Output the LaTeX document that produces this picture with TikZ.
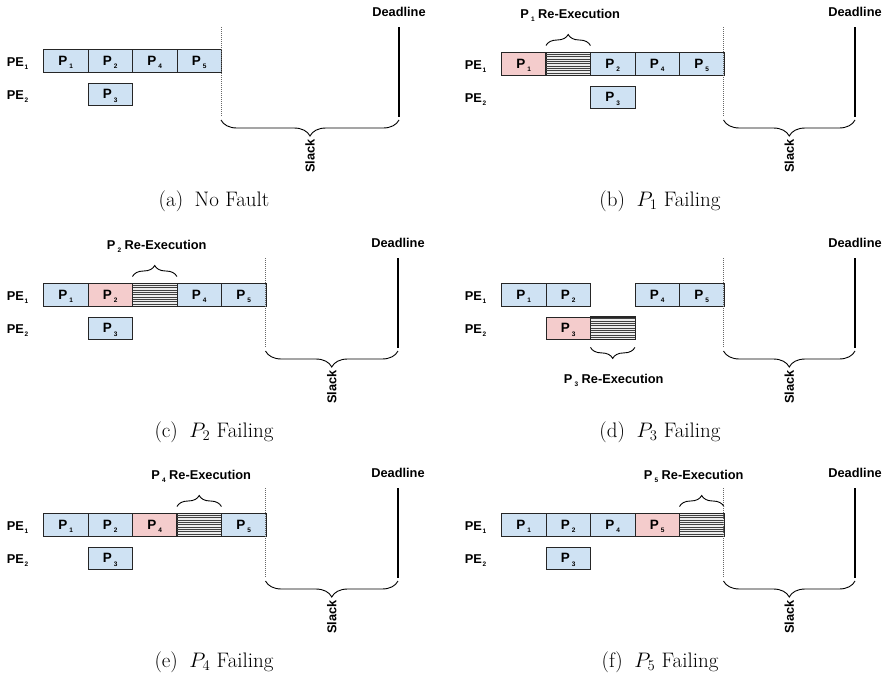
\documentclass[tikz,border=0pt]{standalone}
\usepackage{fix-cm}
\usepackage{fontspec}
\newfontfamily\arialfont{Liberation Sans}
\usetikzlibrary{calc,decorations.pathreplacing}

\definecolor{taskblue}{HTML}{CFE2F3}
\definecolor{taskred}{HTML}{F4CCCC}

% lowered small index, as in PE1 or P3
\newcommand\subl[1]{\hspace{0.16em}\smash{\raisebox{-3.2pt}{\fontsize{6.5}{7}\selectfont #1}}}
\newcommand\subpe[1]{\hspace{0.06em}\smash{\raisebox{-3.2pt}{\fontsize{6.5}{7}\selectfont #1}}}

\tikzset{
  lab/.style={font=\arialfont\bfseries\fontsize{12.8}{14}\selectfont, inner sep=0pt},
  task/.style={draw=black!85, line width=0.9pt, minimum width=44.5pt, minimum height=22.5pt,
    inner sep=0pt, anchor=north west, font=\arialfont\bfseries\fontsize{13.5}{15}\selectfont},
  okbox/.style={task, fill=taskblue},
  failbox/.style={task, fill=taskred},
  redobox/.style={task, fill=gray!15},
  hatchline/.style={line width=0.9pt, black!75},
  finishline/.style={gray!80!black, line width=0.8pt, dash pattern=on 1pt off 1pt},
  deadline/.style={black, line width=2.2pt},
  slackbrace/.style={decorate, decoration={brace, amplitude=16pt}, line width=0.9pt},
  redobrace/.style={decorate, decoration={brace, amplitude=11pt}, line width=0.9pt},
  captext/.style={font=\fontsize{21}{24}\selectfont, inner sep=0pt},
}

% horizontal hatching of a re-execution slot
\newcommand\hatchbox[1]{%
  \foreach \k in {1,...,9}{%
    \draw[hatchline] ($(#1.north west)!\k/10!(#1.south west)$) -- ($(#1.north east)!\k/10!(#1.south east)$);}%
  \draw[draw=black!85, line width=0.9pt] (#1.north west) rectangle (#1.south east);}

% processor labels, finish line, deadline, slack brace and caption
% #1 box top, #2 finish x, #3 deadline x, #4 caption x, #5 caption
\newcommand\panelframe[5]{%
  \node[lab] (pe1) at (17.5,#1+13) {PE\subpe{1}};
  \node[lab] (pe2) at (17.5,#1+46) {PE\subpe{2}};
  \coordinate (fTop) at (#2,27);
  \coordinate (fBot) at (#2,117);
  \draw[finishline] (fTop) -- (fBot);
  \coordinate (dTop) at (#3,27);
  \coordinate (dBot) at (#3,117);
  \draw[deadline] (dTop) -- (dBot);
  \node[lab] (dl) at (#3,12) {Deadline};
  \coordinate (sR) at (#3,120);
  \coordinate (sL) at (#2,120);
  \draw[slackbrace] (sR) -- (sL);
  \node[lab, rotate=90, anchor=east] (slack) at ($(sL)!0.5!(sR)+(0,19)$) {Slack};
  \node[captext] (cap) at (#4,201) {#5};
}

\begin{document}
\begin{tikzpicture}[x=1pt,y=-1pt]
\useasboundingbox (0,0) rectangle (885,680);

% (a) no fault
\begin{scope}[name prefix=a-]
  \node[okbox] (p1) at (43,49) {P\subl{1}};
  \node[okbox] (p2) at (87.5,49) {P\subl{2}};
  \node[okbox] (p4) at (132,49) {P\subl{4}};
  \node[okbox] (p5) at (176.5,49) {P\subl{5}};
  \node[okbox] (p3) at (87.5,82.5) {P\subl{3}};
  \panelframe{49}{221}{399}{214}{(a)\hspace{0.55em}No Fault}
\end{scope}

% (b) P1 fails
\begin{scope}[shift={(458,0)}, name prefix=b-]
  \node[failbox] (p1) at (43,52) {P\subl{1}};
  \node[redobox] (redo) at (87.5,52) {};
  \node[okbox] (p2) at (132,52) {P\subl{2}};
  \node[okbox] (p4) at (176.5,52) {P\subl{4}};
  \node[okbox] (p5) at (221,52) {P\subl{5}};
  \node[okbox] (p3) at (132,85.5) {P\subl{3}};
  \hatchbox{redo}
  \coordinate (rL) at ($(redo.north west)+(0.5,-6.5)$);
  \coordinate (rR) at ($(redo.north east)+(-0.5,-6.5)$);
  \draw[redobrace] (rL) -- (rR);
  \node[lab] (rx) at ($(redo.north)+(2,-38)$) {P\subl{1} Re-Execution};
  \panelframe{52}{265.5}{397}{202}{(b)\hspace{0.55em}$P_1$ Failing}
\end{scope}

% (c) P2 fails
\begin{scope}[shift={(0,231)}, name prefix=c-]
  \node[okbox] (p1) at (43,52) {P\subl{1}};
  \node[failbox] (p2) at (87.5,52) {P\subl{2}};
  \node[redobox] (redo) at (132,52) {};
  \node[okbox] (p4) at (176.5,52) {P\subl{4}};
  \node[okbox] (p5) at (221,52) {P\subl{5}};
  \node[okbox] (p3) at (87.5,85.5) {P\subl{3}};
  \hatchbox{redo}
  \coordinate (rL) at ($(redo.north west)+(0.5,-6.5)$);
  \coordinate (rR) at ($(redo.north east)+(-0.5,-6.5)$);
  \draw[redobrace] (rL) -- (rR);
  \node[lab] (rx) at ($(redo.north)+(2,-38)$) {P\subl{2} Re-Execution};
  \panelframe{52}{265.5}{398}{214}{(c)\hspace{0.55em}$P_2$ Failing}
\end{scope}

% (d) P3 fails
\begin{scope}[shift={(458,231)}, name prefix=d-]
  \node[okbox] (p1) at (43,52) {P\subl{1}};
  \node[okbox] (p2) at (87.5,52) {P\subl{2}};
  \node[okbox] (p4) at (176.5,52) {P\subl{4}};
  \node[okbox] (p5) at (221,52) {P\subl{5}};
  \node[failbox] (p3) at (87.5,85.5) {P\subl{3}};
  \node[redobox] (redo) at (132,85.5) {};
  \hatchbox{redo}
  \coordinate (rL) at ($(redo.south west)+(0.5,7.5)$);
  \coordinate (rR) at ($(redo.south east)+(-0.5,7.5)$);
  \draw[redobrace] (rR) -- (rL);
  \node[lab] (rx) at ($(redo.south)+(1,39)$) {P\subl{3} Re-Execution};
  \panelframe{52}{265.5}{397}{202}{(d)\hspace{0.55em}$P_3$ Failing}
\end{scope}

% (e) P4 fails
\begin{scope}[shift={(0,461)}, name prefix=e-]
  \node[okbox] (p1) at (43,52) {P\subl{1}};
  \node[okbox] (p2) at (87.5,52) {P\subl{2}};
  \node[failbox] (p4) at (132,52) {P\subl{4}};
  \node[redobox] (redo) at (176.5,52) {};
  \node[okbox] (p5) at (221,52) {P\subl{5}};
  \node[okbox] (p3) at (87.5,85.5) {P\subl{3}};
  \hatchbox{redo}
  \coordinate (rL) at ($(redo.north west)+(0.5,-6.5)$);
  \coordinate (rR) at ($(redo.north east)+(-0.5,-6.5)$);
  \draw[redobrace] (rL) -- (rR);
  \node[lab] (rx) at ($(redo.north)+(2,-38)$) {P\subl{4} Re-Execution};
  \panelframe{52}{265.5}{398}{214}{(e)\hspace{0.55em}$P_4$ Failing}
\end{scope}

% (f) P5 fails
\begin{scope}[shift={(458,461)}, name prefix=f-]
  \node[okbox] (p1) at (43,52) {P\subl{1}};
  \node[okbox] (p2) at (87.5,52) {P\subl{2}};
  \node[okbox] (p4) at (132,52) {P\subl{4}};
  \node[failbox] (p5) at (176.5,52) {P\subl{5}};
  \node[redobox] (redo) at (221,52) {};
  \node[okbox] (p3) at (87.5,85.5) {P\subl{3}};
  \hatchbox{redo}
  \coordinate (rL) at ($(redo.north west)+(0.5,-6.5)$);
  \coordinate (rR) at ($(redo.north east)+(-0.5,-6.5)$);
  \draw[redobrace] (rL) -- (rR);
  \node[lab] (rx) at ($(redo.north)+(-8,-38)$) {P\subl{5} Re-Execution};
  \panelframe{52}{265.5}{397}{202}{(f)\hspace{0.55em}$P_5$ Failing}
\end{scope}
\end{tikzpicture}
\end{document}
